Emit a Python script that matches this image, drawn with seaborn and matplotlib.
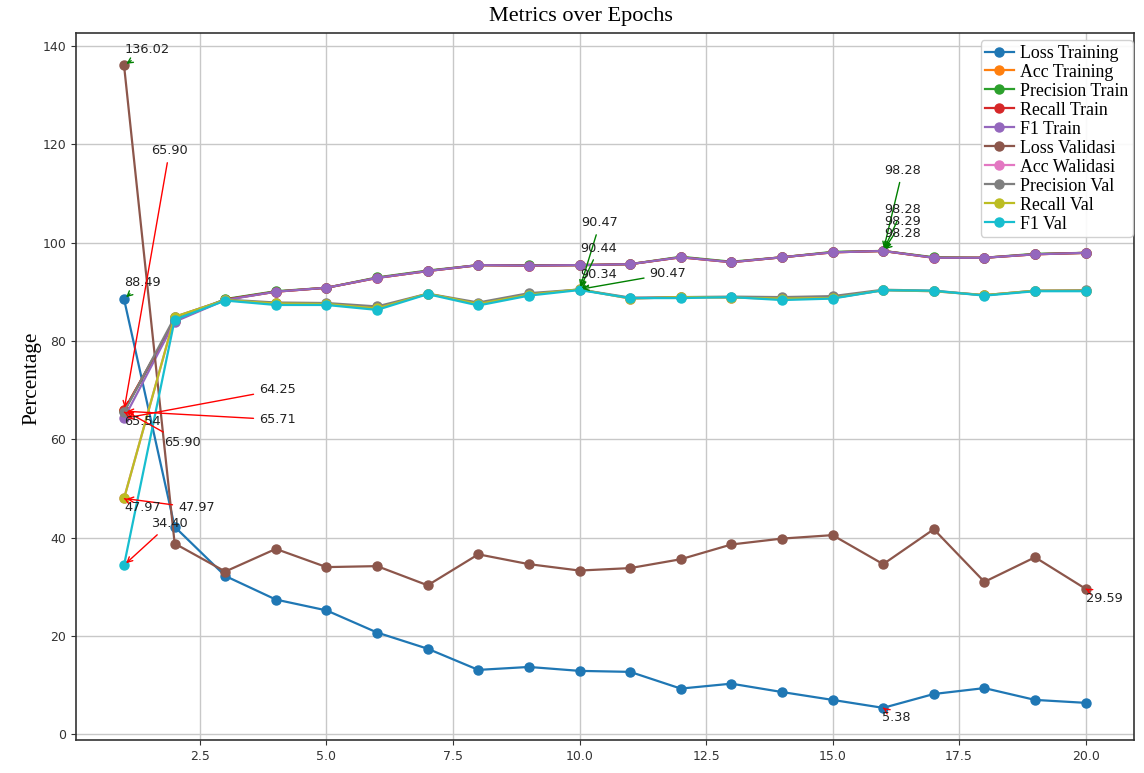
import matplotlib
matplotlib.use("Agg")
import matplotlib.pyplot as plt
import seaborn as sns
import numpy as np

epochs = list(range(1, 21))

loss_training = [88.49, 42.2, 32.2, 27.4, 25.2, 20.7, 17.4, 13.1, 13.7, 12.9,
                 12.7, 9.3, 10.3, 8.6, 7.0, 5.38, 8.2, 9.4, 7.0, 6.4]
acc_training = [65.90, 84.1, 88.4, 90.0, 90.8, 92.8, 94.2, 95.4, 95.3, 95.4,
                95.6, 97.0, 96.0, 97.0, 98.0, 98.28, 96.9, 96.9, 97.6, 97.9]
precision_train = [65.71, 84.2, 88.5, 90.1, 90.8, 92.9, 94.3, 95.4, 95.4, 95.4,
                   95.6, 97.1, 96.1, 97.0, 98.1, 98.29, 97.0, 96.9, 97.7, 97.9]
recall_train = [65.90, 84.1, 88.4, 90.0, 90.8, 92.8, 94.2, 95.4, 95.3, 95.4,
                95.6, 97.0, 96.0, 97.0, 98.0, 98.28, 96.9, 96.9, 97.6, 97.9]
f1_train = [64.25, 83.9, 88.3, 90.0, 90.8, 92.8, 94.2, 95.4, 95.3, 95.4,
            95.6, 97.0, 96.0, 97.0, 98.0, 98.28, 96.9, 96.9, 97.6, 97.9]
loss_validasi = [136.02, 38.8, 33.1, 37.7, 34.0, 34.2, 30.3, 36.6, 34.6, 33.3,
                 33.8, 35.6, 38.6, 39.8, 40.5, 34.6, 41.7, 31.0, 36.0, 29.59]
acc_validasi = [47.97, 84.9, 88.3, 87.6, 87.5, 86.6, 89.6, 87.5, 89.4, 90.47,
                88.6, 88.9, 88.8, 88.6, 88.7, 90.3, 90.1, 89.3, 90.2, 90.2]
precision_val = [65.54, 84.8, 88.4, 87.8, 87.7, 87.0, 89.6, 87.8, 89.7, 90.44,
                 88.8, 88.9, 89.0, 88.9, 89.1, 90.4, 90.2, 89.3, 90.2, 90.3]
recall_val = [47.97, 84.9, 88.3, 87.6, 87.5, 86.6, 89.6, 87.5, 89.4, 90.47,
              88.6, 88.9, 88.8, 88.6, 88.7, 90.3, 90.1, 89.3, 90.2, 90.2]
f1_val = [34.40, 84.3, 88.2, 87.3, 87.3, 86.3, 89.5, 87.2, 89.2, 90.34,
          88.7, 88.7, 88.9, 88.3, 88.6, 90.3, 90.2, 89.2, 90.1, 90.1]

series_names = ["Loss Training", "Acc Training", "Precision Train", "Recall Train",
                "F1 Train", "Loss Validasi", "Acc Walidasi", "Precision Val",
                "Recall Val", "F1 Val"]
series_values = [loss_training, acc_training, precision_train, recall_train,
                 f1_train, loss_validasi, acc_validasi, precision_val,
                 recall_val, f1_val]

# label offsets (pixels) for the max / min annotations
max_offsets = [(0, 13), (1, 77), (1, 26), (1, 38), (1, 14),
               (1, 12), (2, 63), (1, 38), (70, 12), (1, 12)]
min_offsets = [(-1, -13), (27, 256), (135, -12), (40, -36), (135, 25),
               (0, -13), (54, -13), (0, -13), (0, -13), (27, 38)]

colors = sns.color_palette("tab10", 10)

fig = plt.figure(figsize=(11.44, 7.73), dpi=100)
ax = fig.add_axes([0.0664, 0.0427, 0.9246, 0.9143])

for name, vals, col in zip(series_names, series_values, colors):
    sns.lineplot(x=epochs, y=vals, marker="o", color=col, label=name, ax=ax,
                 markersize=6.5, markeredgecolor=col, markeredgewidth=1,
                 linewidth=1.6)

for name, vals, mo, no in zip(series_names, series_values, max_offsets, min_offsets):
    arr = np.array(vals)
    imax = int(np.argmax(arr))
    imin = int(np.argmin(arr))
    ax.annotate(f"{arr[imax]:.2f}", xy=(epochs[imax], arr[imax]), xytext=mo,
                textcoords="offset pixels", fontsize=9.3, color="#222222",
                arrowprops=dict(arrowstyle="->", color="green", lw=1))
    ax.annotate(f"{arr[imin]:.2f}", xy=(epochs[imin], arr[imin]), xytext=no,
                textcoords="offset pixels", fontsize=9.3, color="#222222",
                arrowprops=dict(arrowstyle="->", color="red", lw=1))

ax.grid(True, color="#c8c8c8", linewidth=1)
ax.set_axisbelow(True)
ax.tick_params(labelsize=9, colors="#333333")
ax.set_xlabel("")
ax.set_ylabel("Percentage", fontfamily="Liberation Serif", fontsize=15.3)
ax.yaxis.set_label_coords(-0.033, 0.512)
ax.set_title("Metrics over Epochs", fontfamily="Liberation Serif", fontsize=16,
             x=0.477, pad=8.5)
for s in ax.spines.values():
    s.set_color("#333333")
    s.set_linewidth(1.2)

leg = ax.legend(loc="upper right", bbox_to_anchor=(0.999, 0.990),
                prop={"family": "Liberation Serif", "size": 12.9},
                labelspacing=0.11, handlelength=1.6, handletextpad=0.35,
                borderpad=0.25, borderaxespad=0.0, framealpha=0.9)

fig.savefig("out.png", dpi=100)
